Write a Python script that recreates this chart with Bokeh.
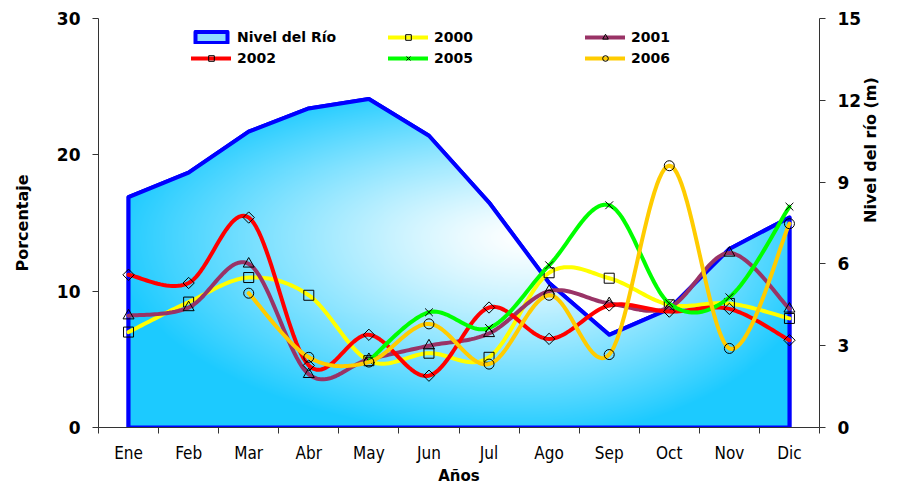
import numpy as np
from bokeh.plotting import figure
from bokeh.models import (Range1d, LinearAxis, FixedTicker, Legend, LegendItem)
from bokeh.embed import file_html
from bokeh.resources import INLINE

# ---------------- data ----------------
meses = ["Ene", "Feb", "Mar", "Abr", "May", "Jun", "Jul", "Ago", "Sep", "Oct", "Nov", "Dic"]
nivel = [8.45, 9.35, 10.85, 11.7, 12.05, 10.7, 8.25, 5.3, 3.4, 4.35, 6.55, 7.7]
s2000 = [7.0, 9.2, 11.0, 9.7, 4.9, 5.45, 5.15, 11.35, 10.95, 9.0, 9.1, 8.0]
s2001 = [8.2, 8.8, 12.0, 3.9, 5.0, 6.0, 6.9, 10.0, 9.1, 8.8, 12.8, 8.7]
s2002 = [11.2, 10.6, 15.4, 4.55, 6.8, 3.8, 8.8, 6.5, 8.95, 8.5, 8.7, 6.4]
s2005 = [None, None, None, None, 4.9, 8.45, 7.3, 11.9, 16.3, 9.1, 9.55, 16.2]
s2006 = [None, None, 9.85, 5.15, 4.8, 7.6, 4.65, 9.7, 5.35, 19.2, 5.8, 14.95]
ticks_izq = [0, 10, 20, 30]
ticks_der = [0, 3, 6, 9, 12, 15]

idx = list(range(len(meses)))

FONT = "DejaVu Sans"
AX = "#333333"


def smooth(xs, ys, n=24):
    pts = np.array([(x, y) for x, y in zip(xs, ys) if y is not None], dtype=float)
    ox, oy = [], []
    m = len(pts)
    for i in range(m - 1):
        p0 = pts[i - 1] if i > 0 else pts[i]
        p1 = pts[i]
        p2 = pts[i + 1]
        p3 = pts[i + 2] if i + 2 < m else pts[i + 1]
        c1 = p1 + (p2 - p0) / 6.0
        c2 = p2 - (p3 - p1) / 6.0
        ts = np.linspace(0, 1, n, endpoint=(i == m - 2))
        for t in ts:
            b = ((1 - t) ** 3) * p1 + 3 * ((1 - t) ** 2) * t * c1 + 3 * (1 - t) * t * t * c2 + t ** 3 * p2
            ox.append(b[0])
            oy.append(b[1])
    return ox, oy


p = figure(width=892, height=488, x_range=Range1d(-0.5, 11.5), y_range=Range1d(0, 30),
           output_backend="svg", toolbar_location=None,
           min_border_left=98, min_border_right=63, min_border_top=18, min_border_bottom=61)
p.extra_y_ranges = {"nivel": Range1d(0, 15)}
p.outline_line_color = None
p.xgrid.visible = False
p.ygrid.visible = False
p.background_fill_color = "white"

# ---------------- area with radial gradient ----------------
poly_x = [idx[0]] + idx + [idx[-1]]
poly_y = [0] + nivel + [0]
area = p.patch(poly_x, poly_y, fill_color="#8FDAFF", line_color="#0000FF", line_width=4,
               line_join="round", y_range_name="nivel")

ymax = max(nivel)
nx, ny = 670, 330
gx = np.linspace(0, 11, nx)
gy = np.linspace(0, ymax, ny)
X, Y = np.meshgrid(gx, gy)
top = np.interp(X, idx, nivel)
inside = Y <= top
cx, cy = 6.6, 7.0
dx = X - cx
dy = Y - cy
rx = np.where(dx < 0, 6.9, 5.0)
ry = np.where(dy > 0, 5.8, 7.4)
d = np.sqrt((dx / rx) ** 2 + (dy / ry) ** 2)
t = np.clip(d, 0, 1) ** 1.25
edge = np.array([28, 202, 255], dtype=float)
img = np.zeros((ny, nx), dtype=np.uint32)
view = img.view(dtype=np.uint8).reshape((ny, nx, 4))
for k in range(3):
    view[:, :, k] = np.round(255 + (edge[k] - 255) * t).astype(np.uint8)
view[:, :, 3] = np.where(inside, 255, 0).astype(np.uint8)
p.image_rgba(image=[img], x=0, y=0, dw=11, dh=ymax, y_range_name="nivel")

p.line(poly_x + [poly_x[0]], poly_y + [poly_y[0]], line_color="#0000FF", line_width=4,
       line_join="round", y_range_name="nivel")

# ---------------- series ----------------
series = [
    ("2000", s2000, "#FFFF00", "square", 10, 0.0),
    ("2001", s2001, "#993366", "triangle", 11, 0.0),
    ("2002", s2002, "#FF0000", "square", 8, np.pi / 4),
    ("2005", s2005, "#00FF00", "x", 11, 0.0),
    ("2006", s2006, "#FFCC00", "circle", 10, 0.0),
]
items = {}
for name, vals, col, mk, sz, ang in series:
    sx, sy = smooth(idx, vals)
    lr = p.line(sx, sy, line_color=col, line_width=4, line_join="round", line_cap="round")
    px = [i for i, v in zip(idx, vals) if v is not None]
    py = [v for v in vals if v is not None]
    sr = p.scatter(px, py, marker=mk, size=sz, angle=ang, fill_alpha=0,
                   line_color="black", line_width=1)
    items[name] = [lr, sr]

# ---------------- axes ----------------
xa = p.xaxis[0]
xa.ticker = FixedTicker(ticks=idx, minor_ticks=[i - 0.5 for i in range(len(meses) + 1)])
xa.major_label_overrides = {i: m for i, m in zip(idx, meses)}
xa.major_tick_out = 0
xa.major_tick_in = 0
xa.minor_tick_out = 6
xa.minor_tick_in = 0
xa.minor_tick_line_color = AX
xa.axis_line_color = AX
xa.major_label_text_font = "DejaVu Sans Condensed, DejaVu Sans, sans-serif"
xa.major_label_text_font_size = "17px"
xa.major_label_text_color = "black"
xa.major_label_standoff = 9
xa.axis_label = "Años"
xa.axis_label_text_font = FONT
xa.axis_label_text_font_style = "bold"
xa.axis_label_text_font_size = "15px"
xa.axis_label_text_color = "black"
xa.axis_label_standoff = 1

ya = p.yaxis[0]
ya.ticker = FixedTicker(ticks=ticks_izq)
ya.minor_tick_line_color = None
ya.major_tick_out = 6
ya.major_tick_in = 0
ya.axis_line_color = AX
ya.major_tick_line_color = AX
ya.major_label_text_font = FONT
ya.major_label_text_font_style = "bold"
ya.major_label_text_font_size = "17px"
ya.major_label_text_color = "black"
ya.major_label_standoff = 12
ya.axis_label = "Porcentaje"
ya.axis_label_text_font = FONT
ya.axis_label_text_font_style = "bold"
ya.axis_label_text_font_size = "16px"
ya.axis_label_text_color = "black"
ya.axis_label_standoff = 22

yr = LinearAxis(y_range_name="nivel", ticker=FixedTicker(ticks=ticks_der))
yr.minor_tick_line_color = None
yr.major_tick_out = 6
yr.major_tick_in = 0
yr.axis_line_color = AX
yr.major_tick_line_color = AX
yr.major_label_text_font = FONT
yr.major_label_text_font_style = "bold"
yr.major_label_text_font_size = "17px"
yr.major_label_text_color = "black"
yr.major_label_standoff = 12
yr.axis_label = "Nivel del río (m)"
yr.axis_label_text_font = FONT
yr.axis_label_text_font_style = "bold"
yr.axis_label_text_font_size = "16px"
yr.axis_label_text_color = "black"
yr.axis_label_standoff = 6
if "axis_label_orientation" in yr.properties():
    yr.axis_label_orientation = np.pi / 2
p.add_layout(yr, "right")

# ---------------- legends ----------------
rows = [
    [LegendItem(label="Nivel del Río", renderers=[area]),
     LegendItem(label="2000", renderers=items["2000"]),
     LegendItem(label="2001", renderers=items["2001"])],
    [LegendItem(label="2002", renderers=items["2002"]),
     LegendItem(label="2005", renderers=items["2005"]),
     LegendItem(label="2006", renderers=items["2006"])],
]
for r, ybot in zip(rows, [380, 359]):
    leg = Legend(items=r, orientation="horizontal", location=(93, ybot),
                 padding=0, margin=0, spacing=5, glyph_width=40, glyph_height=14,
                 label_height=20, label_width=146, label_standoff=6,
                 label_text_font=FONT, label_text_font_style="bold",
                 label_text_font_size="14px", label_text_color="black",
                 border_line_color=None, background_fill_alpha=0)
    p.add_layout(leg)

open("out.html", "w").write(file_html(p, INLINE))
